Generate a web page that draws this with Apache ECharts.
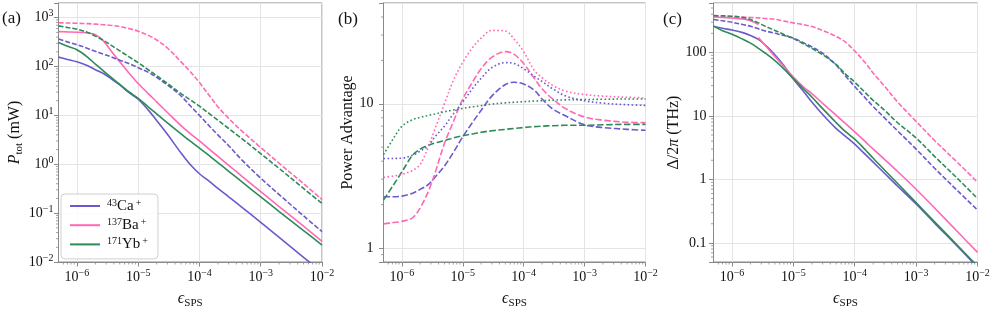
<!DOCTYPE html>
<html><head><meta charset="utf-8">
<script src="https://cdn.jsdelivr.net/npm/echarts@6/dist/echarts.min.js"></script>
<style>html,body{margin:0;padding:0;background:#fff}#c{width:996px;height:314px}</style>
</head><body><div id="c"></div>
<script>
// x values (epsilon_SPS) shared by every curve
const EPS = [5e-7, 7e-7, 1e-6, 1.5e-6, 2e-6, 2.7e-6, 3.5e-6, 5e-6, 7e-6, 1e-5, 1.5e-5, 2e-5, 3e-5, 5e-5, 7e-5, 1e-4, 1.5e-4, 2e-4, 3e-4, 5e-4, 1e-3, 2e-3, 5e-3, 1e-2];
const ION_LABELS = [['43', 'Ca'], ['137', 'Ba'], ['171', 'Yb']];

// (a) P_tot (mW)
const CA_P_SOLID = [156, 140, 125, 104, 86, 72, 58, 42, 29.5, 21.5, 12.4, 7.9, 4.1, 1.7, 1.0, 0.64, 0.43, 0.32, 0.215, 0.13, 0.065, 0.032, 0.0125, 0.0062];
const BA_P_SOLID = [520, 512, 505, 485, 450, 335, 220, 125, 75, 45, 27, 19, 11.5, 6.2, 4.3, 3.0, 1.95, 1.45, 0.95, 0.56, 0.275, 0.136, 0.054, 0.0265];
const YB_P_SOLID = [310, 260, 221, 155, 112, 82, 62, 43, 30.5, 22.3, 14.5, 10.8, 7.0, 4.2, 3.0, 2.15, 1.44, 1.08, 0.72, 0.43, 0.215, 0.108, 0.044, 0.0222];
const CA_P_DASH = [365, 320, 280, 235, 205, 180, 160, 135, 115, 95, 75, 60, 42, 25, 16, 10, 5.8, 4.0, 2.4, 1.2, 0.52, 0.24, 0.088, 0.042];
const BA_P_DASH = [790, 780, 770, 755, 740, 720, 700, 660, 600, 530, 430, 350, 240, 125, 80, 47, 24, 15, 8.7, 4.7, 2.2, 1.05, 0.4, 0.19];
const YB_P_DASH = [680, 630, 580, 500, 420, 345, 280, 210, 160, 120, 84, 65, 45, 28, 21, 15.5, 10.5, 8, 5.4, 3.3, 1.65, 0.82, 0.32, 0.158];

// (b) Power advantage
const CA_ADV_DOT = [4.17, 4.18, 4.2, 4.4, 4.7, 5.1, 5.9, 7.0, 8.5, 10.3, 13, 15, 17.8, 19.3, 19, 17.5, 15.5, 14.3, 12.7, 11.3, 10.5, 10.1, 9.85, 9.75];
const CA_ADV_DASH = [2.27, 2.27, 2.29, 2.4, 2.55, 2.75, 3.1, 3.7, 4.6, 5.9, 7.6, 9, 11.3, 13.6, 14.1, 13.7, 12.4, 10.8, 9.2, 8.2, 7.15, 6.85, 6.65, 6.55];
const BA_ADV_DOT = [3.09, 3.15, 3.24, 3.45, 3.8, 5.0, 6.7, 10, 14.5, 19.4, 25, 28.5, 32.3, 32, 28, 23, 17, 15.2, 13.4, 12.2, 11.6, 11.3, 11.1, 11];
const BA_ADV_DASH = [1.47, 1.5, 1.53, 1.62, 1.9, 2.45, 3.3, 5.3, 7.5, 10.8, 14.5, 17.5, 21, 23, 22, 19, 15, 12.7, 10.8, 9.2, 8.1, 7.7, 7.45, 7.4];
const YB_ADV_DOT = [4.45, 5.6, 6.98, 7.77, 8.05, 8.3, 8.5, 8.8, 9.05, 9.3, 9.55, 9.7, 9.95, 10.15, 10.25, 10.35, 10.45, 10.5, 10.6, 10.65, 10.7, 10.75, 10.8, 10.8];
const YB_ADV_DASH = [2.15, 2.67, 3.37, 4.4, 4.85, 5.15, 5.35, 5.55, 5.8, 6.0, 6.2, 6.35, 6.5, 6.65, 6.75, 6.85, 6.95, 7.0, 7.05, 7.1, 7.1, 7.15, 7.2, 7.2];

// (c) Delta/2pi (THz)
const CA_D_SOLID = [259, 240, 225, 205, 185, 160, 130, 92, 62, 38, 23.5, 16.5, 10.5, 6.3, 4.8, 3.6, 2.45, 1.87, 1.27, 0.78, 0.41, 0.205, 0.083, 0.041];
const BA_D_SOLID_UPPER = [362, 355, 349, 337, 315, 275];            // EPS[0..5]
const BA_D_SOLID_LOWER = [171, 128, 86, 60, 41, 28, 22.5, 15.8, 10.2, 7.6, 5.6, 3.9, 3.0, 2.1, 1.33, 0.7, 0.355, 0.142, 0.071]; // EPS[5..23]
const YB_D_SOLID = [259, 220, 193, 161, 140, 116, 97, 74, 55, 38.6, 26, 19.8, 13, 7.8, 5.7, 4.3, 2.9, 2.15, 1.43, 0.86, 0.43, 0.215, 0.086, 0.043];
const CA_D_DASH = [329, 315, 299, 275, 258, 235, 218, 200, 185, 168, 140, 122, 97, 63, 43, 29, 19, 14, 9.5, 5.8, 3.0, 1.5, 0.63, 0.33];
const BA_D_DASH = [371, 368, 365, 360, 355, 350, 342, 332, 312, 292, 272, 255, 222, 178, 146, 105, 68, 47, 30, 16.5, 8.2, 4.1, 1.75, 0.9];
const YB_D_DASH = [380, 377, 372, 355, 330, 292, 258, 222, 192, 165, 135, 116, 92, 64, 46, 34, 23, 17.5, 12.5, 7.8, 4.5, 2.3, 0.98, 0.5];

// axis ranges
const X_RANGE = [5e-7, 1e-2];
const Y_RANGES = [[1e-2, 2e3], [0.8, 50], [0.05, 600]];
const MINOR_MULT = [2, 3, 4, 5, 6, 7, 8, 9];

const C_CA = '#6a5acd', C_BA = '#ff69b4', C_YB = '#2e8b57';
const FONT = 'Liberation Serif';
const AXC = '#8a8a8a';
const GRIDC = '#e4e4e4';

const pairs = (xs, ys) => ys.map((y, i) => [xs[i], y]);

function minorVals(min, max) {
  const out = [];
  for (let e = Math.floor(Math.log10(min)); e <= Math.ceil(Math.log10(max)); e++) {
    for (const m of MINOR_MULT) {
      const v = m * Math.pow(10, e);
      if (v > min * 1.0001 && v < max * 0.9999) out.push(v);
    }
  }
  return out;
}

function isPow10(v) { const l = Math.log10(v); return Math.abs(l - Math.round(l)) < 1e-6; }
function powFmt(v) {
  if (!isPow10(v)) return '';
  const e = Math.round(Math.log10(v));
  return '{b|10}{s|' + (e < 0 ? '\u2212' + (-e) : e) + '}';
}
function plainFmt(v) {
  if (!isPow10(v)) return '';
  return String(Number(v.toPrecision(6)));
}
const tickRich = {
  b: { fontFamily: FONT, fontSize: 14, lineHeight: 18, color: '#111' },
  s: { fontFamily: FONT, fontSize: 10, lineHeight: 10, verticalAlign: 'top', color: '#111' }
};
const nameRich = {
  t: { fontFamily: FONT, fontSize: 16, lineHeight: 20, color: '#111' },
  i: { fontFamily: FONT, fontSize: 16, lineHeight: 20, fontStyle: 'italic', color: '#111' },
  s: { fontFamily: FONT, fontSize: 11, lineHeight: 8, verticalAlign: 'bottom', color: '#111' }
};

const GRIDS = [
  { left: 58.5, top: 3, width: 263.5, height: 261.3 },
  { left: 383.5, top: 3, width: 262, height: 261.3 },
  { left: 713.5, top: 3, width: 264, height: 261.3 }
];

function xAxis(i) {
  return {
    type: 'log', gridIndex: i, min: X_RANGE[0], max: X_RANGE[1], logBase: 10,
    name: '{i|\u03f5}{s|SPS}', nameLocation: 'middle', nameGap: 27,
    nameTextStyle: { rich: nameRich },
    axisLine: { show: true, lineStyle: { color: AXC, width: 1 } },
    axisTick: { show: true, length: 4.5, lineStyle: { color: AXC } },
    axisLabel: { formatter: powFmt, rich: tickRich, margin: 6, showMinLabel: false },
    splitLine: { show: true, lineStyle: { color: GRIDC, width: 1 } }
  };
}
function yAxis(i, fmt, name, gap, margin) {
  return {
    type: 'log', gridIndex: i, min: Y_RANGES[i][0], max: Y_RANGES[i][1], logBase: 10,
    name: name, nameLocation: 'middle', nameGap: gap,
    nameTextStyle: { rich: nameRich },
    axisLine: { show: true, lineStyle: { color: AXC, width: 1 } },
    axisTick: { show: true, length: 4.5, lineStyle: { color: AXC } },
    axisLabel: { formatter: fmt, rich: tickRich, margin: margin, color: '#111', fontFamily: FONT, fontSize: 14 },
    splitLine: { show: true, lineStyle: { color: GRIDC, width: 1 } }
  };
}

function line(name, gi, xs, ys, color, type, width) {
  return {
    name: name, type: 'line', xAxisIndex: gi, yAxisIndex: gi,
    data: pairs(xs, ys), showSymbol: false, symbol: 'none', smooth: 0.35,
    color: color,
    lineStyle: { color: color, width: width || 1.6, type: type || 'solid' },
    emphasis: { disabled: true }, animation: false, z: 3
  };
}
function minorTicks(gi, horizontal) {
  const vals = horizontal ? minorVals(X_RANGE[0], X_RANGE[1]) : minorVals(Y_RANGES[gi][0], Y_RANGES[gi][1]);
  return {
    type: 'custom', xAxisIndex: gi, yAxisIndex: gi, silent: true, clip: false, z: 1,
    data: vals.map(v => horizontal ? [v, Y_RANGES[gi][0]] : [X_RANGE[0], v]),
    renderItem: (params, api) => {
      const p = api.coord([api.value(0), api.value(1)]);
      return {
        type: 'line',
        shape: horizontal ? { x1: p[0], y1: p[1], x2: p[0], y2: p[1] + 2.5 } : { x1: p[0] - 2.5, y1: p[1], x2: p[0], y2: p[1] },
        style: { stroke: AXC, lineWidth: 0.8 }
      };
    },
    animation: false
  };
}
const DASH = [5, 2];
const DASH_B = [6.5, 2.5];
const DOT = [1.6, 2.4];

const series = [
  line('Ca', 0, EPS, CA_P_SOLID, C_CA),
  line('Ba', 0, EPS, BA_P_SOLID, C_BA),
  line('Yb', 0, EPS, YB_P_SOLID, C_YB),
  line('Ca a dash', 0, EPS, CA_P_DASH, C_CA, DASH),
  line('Ba a dash', 0, EPS, BA_P_DASH, C_BA, DASH),
  line('Yb a dash', 0, EPS, YB_P_DASH, C_YB, DASH),

  line('Ca b dash', 1, EPS, CA_ADV_DASH, C_CA, DASH_B),
  line('Ba b dash', 1, EPS, BA_ADV_DASH, C_BA, DASH_B),
  line('Yb b dash', 1, EPS, YB_ADV_DASH, C_YB, DASH_B),
  line('Ca b dot', 1, EPS, CA_ADV_DOT, C_CA, DOT),
  line('Ba b dot', 1, EPS, BA_ADV_DOT, C_BA, DOT),
  line('Yb b dot', 1, EPS, YB_ADV_DOT, C_YB, DOT),

  line('Ca c', 2, EPS, CA_D_SOLID, C_CA),
  line('Ba c hi', 2, EPS.slice(0, 6), BA_D_SOLID_UPPER, C_BA),
  line('Ba c lo', 2, EPS.slice(5), BA_D_SOLID_LOWER, C_BA),
  line('Yb c', 2, EPS, YB_D_SOLID, C_YB),
  line('Ca c dash', 2, EPS, CA_D_DASH, C_CA, DASH),
  line('Ba c dash', 2, EPS, BA_D_DASH, C_BA, DASH),
  line('Yb c dash', 2, EPS, YB_D_DASH, C_YB, DASH)
];
[0, 1, 2].forEach(i => { series.push(minorTicks(i, true)); series.push(minorTicks(i, false)); });

const legendNames = { Ca: 0, Ba: 1, Yb: 2 };
const option = {
  animation: false,
  backgroundColor: '#fff',
  grid: GRIDS.map(g => Object.assign({ show: true, borderColor: AXC, borderWidth: 1, backgroundColor: 'transparent' }, g)),
  xAxis: [xAxis(0), xAxis(1), xAxis(2)],
  yAxis: [
    yAxis(0, powFmt, '{i|P}{s|tot}{t| (mW)}', 34, 5),
    yAxis(1, plainFmt, '{t|Power Advantage}', 25, 10),
    yAxis(2, plainFmt, '{t|\u0394/2}{i|\u03c0}{t| (THz)}', 30, 7)
  ],
  title: [
    { text: '(a)', left: 2, top: 10, padding: 0, textStyle: { fontFamily: FONT, fontSize: 17, fontWeight: 'normal', color: '#111' } },
    { text: '(b)', left: 338, top: 11, padding: 0, textStyle: { fontFamily: FONT, fontSize: 17, fontWeight: 'normal', color: '#111' } },
    { text: '(c)', left: 663, top: 11, padding: 0, textStyle: { fontFamily: FONT, fontSize: 17, fontWeight: 'normal', color: '#111' } }
  ],
  legend: {
    data: ['Ca', 'Ba', 'Yb'],
    left: 61, top: 194, orient: 'vertical',
    icon: 'rect',
    itemWidth: 30, itemHeight: 2, itemGap: 3.7,
    padding: [4, 10, 7, 9],
    backgroundColor: 'rgba(255,255,255,0.85)', borderColor: '#d0d0d0', borderWidth: 1, borderRadius: 4,
    selectedMode: false,
    formatter: n => { const l = ION_LABELS[legendNames[n]]; return '{s|' + l[0] + '}{b|' + l[1] + '}{s|+}'; },
    textStyle: {
      rich: {
        b: { fontFamily: FONT, fontSize: 15, lineHeight: 16, color: '#111' },
        s: { fontFamily: FONT, fontSize: 10, lineHeight: 8, verticalAlign: 'top', color: '#111', padding: [0, 0, 0, 2] }
      }
    }
  },
  series: series
};
const chart = echarts.init(document.getElementById('c'), null, { renderer: 'canvas' });
chart.setOption(option);
</script>
</body></html>
